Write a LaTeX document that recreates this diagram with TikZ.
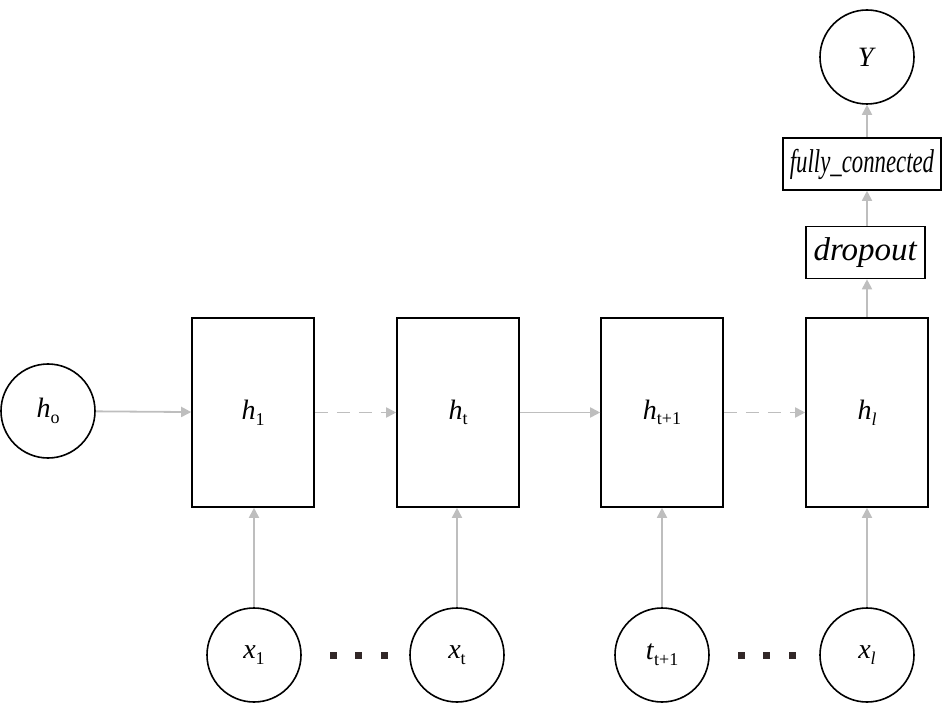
\documentclass[tikz,border=0pt]{standalone}
\usepackage{fontspec}
\setmainfont{Liberation Serif}
\usetikzlibrary{arrows.meta}
\definecolor{dotc}{RGB}{50,40,40}
\definecolor{conc}{RGB}{190,190,190}
\newcommand{\lowsub}[1]{\raisebox{-0.2em}{\fontsize{18}{18}\selectfont #1}}
\begin{document}
\begin{tikzpicture}[x=1pt,y=-1pt,
  circ/.style={draw,line width=1.6pt,circle,minimum size=94pt,inner sep=0pt},
  cell/.style={draw,line width=1.6pt,minimum width=122pt,minimum height=189pt,inner sep=0pt},
  lbox/.style={draw,line width=1.6pt,inner sep=0pt,minimum height=52pt,font=\fontsize{33}{38}\selectfont},
  conn/.style={draw=conc,line width=1.8pt,-{Triangle[length=10pt,width=10pt]}},
  dconn/.style={conn,dash pattern=on 13pt off 9pt},
  dotn/.style={fill=dotc,minimum size=7pt,inner sep=0pt},
  font=\fontsize{28}{32}\selectfont]
\useasboundingbox (0,0) rectangle (945,703);
% cells
\node[circ] (h0) at (48,411) {\textit{h}\lowsub{o}};
\node[cell] (h1) at (253,412.5) {\textit{h}\lowsub{1}};
\node[cell] (ht) at (458,412.5) {\textit{h}\lowsub{t}};
\node[cell] (htp) at (662,412.5) {\textit{h}\lowsub{t+1}};
\node[cell] (hl) at (867,412.5) {\textit{h}\lowsub{\textit{l}}};
% inputs
\node[circ] (x1) at (254,655) {\textit{x}\lowsub{1}};
\node[circ] (xt) at (457,655) {\textit{x}\lowsub{t}};
\node[circ] (xtp) at (662,655) {\textit{t}\lowsub{t+1}};
\node[circ] (xl) at (867,655) {\textit{x}\lowsub{\textit{l}}};
% dots
\node[dotn] (d1) at (333,655) {};
\node[dotn] (d2) at (358.5,655) {};
\node[dotn] (d3) at (384,655) {};
\node[dotn] (d4) at (741,655) {};
\node[dotn] (d5) at (766.5,655) {};
\node[dotn] (d6) at (792,655) {};
% head
\node[lbox,minimum width=119pt] (dp) at (865.5,252.5) {\textit{dropout}};
\node[lbox,minimum width=158pt] (fc) at (862,164) {\scalebox{0.69}[1]{\textit{fully\_connected}}};
\node[circ] (Y) at (867,57) {\textit{Y}};
% connectors
\draw[conn] (h0) -- (h1);
\draw[dconn] (h1) -- (ht);
\draw[conn] (ht) -- (htp);
\draw[dconn] (htp) -- (hl);
\draw[conn] (x1) -- (x1 |- h1.south);
\draw[conn] (xt) -- (xt |- ht.south);
\draw[conn] (xtp) -- (xtp |- htp.south);
\draw[conn] (xl) -- (xl |- hl.south);
\draw[conn] (hl.north) -- (hl.north |- dp.south);
\draw[conn] (hl.north |- dp.north) -- (hl.north |- fc.south);
\draw[conn] (hl.north |- fc.north) -- (Y);
\end{tikzpicture}
\end{document}
